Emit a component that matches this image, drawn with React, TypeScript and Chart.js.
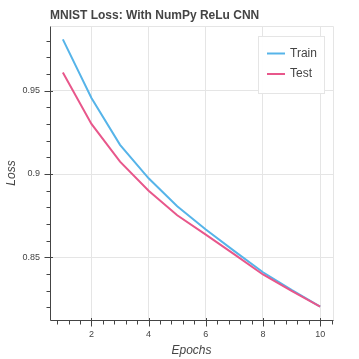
import React, { useEffect, useRef } from "react";
import { Chart, registerables } from "chart.js";

Chart.register(...registerables);

const epochs = [1, 2, 3, 4, 5, 6, 7, 8, 9, 10];
const trainLoss = [0.9807, 0.9456, 0.9175, 0.8974, 0.8807, 0.8667, 0.8538, 0.8411, 0.8305, 0.8205];
const testLoss = [0.9608, 0.9300, 0.9074, 0.8900, 0.8753, 0.8637, 0.8518, 0.8398, 0.8300, 0.8205];

const xMajorTicks = [2, 4, 6, 8, 10];
const xMinorTicks = [0.8, 1.2, 1.6, 2.4, 2.8, 3.2, 3.6, 4.4, 4.8, 5.2, 5.6, 6.4, 6.8, 7.2, 7.6, 8.4, 8.8, 9.2, 9.6, 10.4];
const yMajorTicks = [0.85, 0.9, 0.95];
const yMinorTicks = [0.82, 0.83, 0.84, 0.86, 0.87, 0.88, 0.89, 0.91, 0.92, 0.93, 0.94, 0.96, 0.97, 0.98];

const xRange = [0.55, 10.45];
const yRange = [0.8125, 0.9887];

const TITLE = "MNIST Loss: With NumPy ReLu CNN";
const X_TITLE = "Epochs";
const Y_TITLE = "Loss";
const SERIES_LABELS = ["Train", "Test"];
const COLORS = ["#56B4E9", "#E8578B"];

const FONT = "'Liberation Sans', Arial, Helvetica, sans-serif";
const TEXT = "#444444";
const AXIS = "#444444";
const GRID = "#e5e5e5";

function buildTicks(major: number[], minor: number[]) {
  const all = [
    ...major.map((v) => ({ value: v, major: true })),
    ...minor.map((v) => ({ value: v, major: false })),
  ];
  all.sort((a, b) => a.value - b.value);
  return all;
}

const axesPlugin = {
  id: "bokehAxes",
  afterDatasetsDraw(chart: any) {
    const ctx = chart.ctx as CanvasRenderingContext2D;
    const a = chart.chartArea;
    const xs = chart.scales.x;
    const ys = chart.scales.y;
    const L = Math.round(a.left) + 0.5;
    const B = Math.round(a.bottom) + 0.5;
    const T = Math.round(a.top) + 0.5;
    const R = Math.round(a.right) + 0.5;
    ctx.save();
    ctx.strokeStyle = GRID;
    ctx.lineWidth = 1;
    ctx.beginPath();
    ctx.moveTo(L, T);
    ctx.lineTo(R, T);
    ctx.lineTo(R, B);
    ctx.stroke();
    ctx.strokeStyle = AXIS;
    ctx.beginPath();
    ctx.moveTo(L, T);
    ctx.lineTo(L, B);
    ctx.moveTo(L, B);
    ctx.lineTo(R, B);
    ctx.stroke();
    ctx.beginPath();
    xMajorTicks.forEach((v) => {
      const p = Math.round(xs.getPixelForValue(v)) + 0.5;
      ctx.moveTo(p, B - 2.5);
      ctx.lineTo(p, B + 6);
    });
    xMinorTicks.forEach((v) => {
      const p = Math.round(xs.getPixelForValue(v)) + 0.5;
      ctx.moveTo(p, B);
      ctx.lineTo(p, B + 4);
    });
    yMajorTicks.forEach((v) => {
      const p = Math.round(ys.getPixelForValue(v)) + 0.5;
      ctx.moveTo(L + 2.5, p);
      ctx.lineTo(L - 6, p);
    });
    yMinorTicks.forEach((v) => {
      const p = Math.round(ys.getPixelForValue(v)) + 0.5;
      ctx.moveTo(L, p);
      ctx.lineTo(L - 4, p);
    });
    ctx.stroke();

    const boxW = 66;
    const boxH = 57;
    const x0 = Math.round(a.right) - 9 - boxW;
    const y0 = Math.round(a.top) + 10;
    ctx.fillStyle = "rgba(255,255,255,0.95)";
    ctx.fillRect(x0, y0, boxW, boxH);
    ctx.strokeStyle = GRID;
    ctx.strokeRect(x0 + 0.5, y0 + 0.5, boxW, boxH);
    ctx.font = `12px ${FONT}`;
    ctx.textBaseline = "middle";
    ctx.textAlign = "left";
    chart.data.datasets.forEach((ds: any, i: number) => {
      const cy = y0 + 17.5 + i * 20.5;
      ctx.strokeStyle = ds.borderColor;
      ctx.lineWidth = 2;
      ctx.beginPath();
      ctx.moveTo(x0 + 9, cy);
      ctx.lineTo(x0 + 27, cy);
      ctx.stroke();
      ctx.fillStyle = TEXT;
      ctx.fillText(ds.label, x0 + 32, cy);
    });
    ctx.restore();
  },
};

export default function App() {
  const ref = useRef<HTMLCanvasElement | null>(null);
  useEffect(() => {
    if (!ref.current) return;
    Chart.defaults.font.family = FONT;
    const chart = new Chart(ref.current, {
      type: "line",
      data: {
        labels: epochs,
        datasets: [
          {
            label: SERIES_LABELS[0],
            data: epochs.map((e, i) => ({ x: e, y: trainLoss[i] })),
            borderColor: COLORS[0],
            backgroundColor: COLORS[0],
            borderWidth: 2,
            pointRadius: 0,
            tension: 0,
            order: 2,
          },
          {
            label: SERIES_LABELS[1],
            data: epochs.map((e, i) => ({ x: e, y: testLoss[i] })),
            borderColor: COLORS[1],
            backgroundColor: COLORS[1],
            borderWidth: 2,
            pointRadius: 0,
            tension: 0,
            order: 1,
          },
        ],
      },
      options: {
        responsive: false,
        animation: false,
        devicePixelRatio: 1,
        layout: { padding: { left: 0, right: 26, top: 0, bottom: 0 } },
        plugins: {
          legend: { display: false },
          tooltip: { enabled: false },
          title: {
            display: true,
            text: TITLE,
            align: "start",
            fullSize: false,
            color: TEXT,
            font: { size: 12, weight: "bold", family: FONT },
            padding: { top: 8, bottom: 3.6 },
          },
        },
        scales: {
          x: {
            type: "linear",
            min: xRange[0],
            max: xRange[1],
            afterBuildTicks: (s: any) => {
              s.ticks = buildTicks(xMajorTicks, xMinorTicks);
            },
            afterFit: (s: any) => {
              s.height = 39;
            },
            ticks: {
              autoSkip: false,
              maxRotation: 0,
              color: TEXT,
              font: { size: 9, family: FONT },
              padding: 9,
              callback: (v: any) => (xMajorTicks.includes(Number(v)) ? String(v) : ""),
            },
            grid: {
              drawTicks: false,
              color: (c: any) => (c.tick && c.tick.major ? GRID : "rgba(0,0,0,0)"),
            },
            border: { display: false },
            title: {
              display: true,
              text: X_TITLE,
              color: TEXT,
              font: { size: 12, style: "italic", family: FONT },
              padding: { top: 0, bottom: 1 },
            },
          },
          y: {
            type: "linear",
            min: yRange[0],
            max: yRange[1],
            afterBuildTicks: (s: any) => {
              s.ticks = buildTicks(yMajorTicks, yMinorTicks);
            },
            afterFit: (s: any) => {
              s.width = 50;
            },
            ticks: {
              autoSkip: false,
              color: TEXT,
              font: { size: 9, family: FONT },
              padding: 10,
              callback: (v: any) => {
                const n = Number(v);
                return yMajorTicks.some((m) => Math.abs(m - n) < 1e-9) ? String(n) : "";
              },
            },
            grid: {
              drawTicks: false,
              color: (c: any) => (c.tick && c.tick.major ? GRID : "rgba(0,0,0,0)"),
            },
            border: { display: false },
            title: {
              display: true,
              text: Y_TITLE,
              color: TEXT,
              font: { size: 12, style: "italic", family: FONT },
              padding: { top: 4, bottom: 0 },
            },
          },
        },
      },
      plugins: [axesPlugin],
    });
    return () => chart.destroy();
  }, []);
  return (
    <div style={{ position: "fixed", left: 0, top: 0, width: 359, height: 359, background: "#fff" }}>
      <canvas ref={ref} width={359} height={359} style={{ width: 359, height: 359, display: "block" }} />
    </div>
  );
}
